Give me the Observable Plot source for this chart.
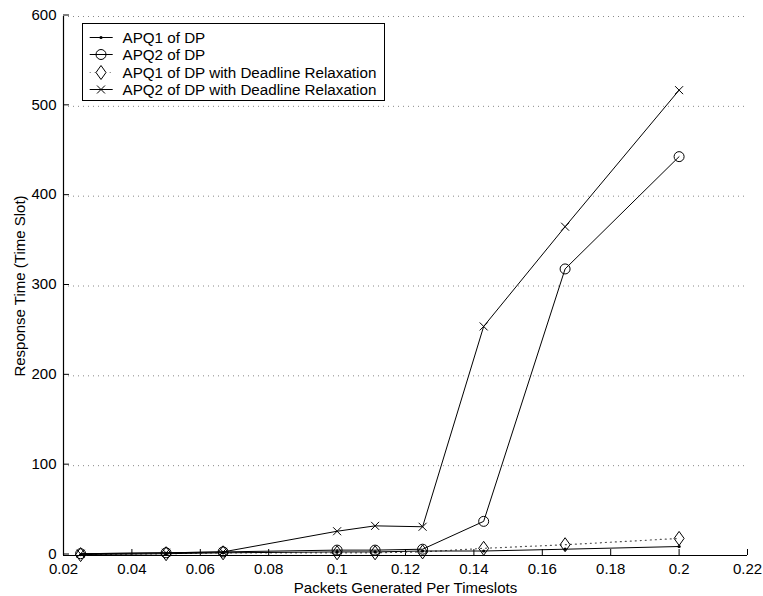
<!DOCTYPE html>
<html><head><meta charset="utf-8">
<script src="https://cdn.jsdelivr.net/npm/d3@7"></script>
<script src="https://cdn.jsdelivr.net/npm/@observablehq/plot@0.6"></script>
<style>
body{margin:0;background:#fff;font-family:"Liberation Sans",Arial,sans-serif;}
#wrap{position:relative;width:763px;height:596px;}
#legend{position:absolute;left:82px;top:23px;width:303px;height:78px;border:1.3px solid #000;background:#fff;box-sizing:border-box;font-size:15.2px;}
#legend .row{position:absolute;left:0;height:19px;display:flex;align-items:center;white-space:nowrap;}
#legend svg{width:38px;height:19px;flex:none;}
#legend span{margin-left:1.5px;}
</style></head>
<body><div id="wrap"><div id="legend"></div></div>
<script>
const xs = [0.025, 0.05, 1/15, 0.1, 1/9, 0.125, 1/7, 1/6, 0.2];
const apq1 = [1, 2, 3, 4, 4, 5, 5, 7, 10];
const apq2 = [2, 3, 4, 6, 6, 7, 38, 319, 444];
const apq1dr = [1, 2, 3, 3, 3, 4, 8, 12, 19];
const apq2dr = [2, 3, 4, 27, 33, 32, 255, 366, 518];
const seriesNames = ["APQ1 of DP", "APQ2 of DP", "APQ1 of DP with Deadline Relaxation", "APQ2 of DP with Deadline Relaxation"];
const xTicks = [0.02, 0.04, 0.06, 0.08, 0.1, 0.12, 0.14, 0.16, 0.18, 0.2, 0.22];
const yTicks = [0, 100, 200, 300, 400, 500, 600];

const diamond = {draw(ctx, size){ const w = 5, h = 7; ctx.moveTo(0,-h); ctx.lineTo(w,0); ctx.lineTo(0,h); ctx.lineTo(-w,0); ctx.closePath(); }};
const times = {draw(ctx, size){ const r = 4; ctx.moveTo(-r,-r); ctx.lineTo(r,r); ctx.moveTo(r,-r); ctx.lineTo(-r,r); }};

const rows = (vals) => xs.map((x, i) => ({x, y: vals[i]}));
const d1 = rows(apq1), d2 = rows(apq2), d3r = rows(apq1dr), d4 = rows(apq2dr);

const font = '"Liberation Sans", Arial, sans-serif';
const chart = Plot.plot({
  width: 763, height: 596,
  marginLeft: 63, marginRight: 16, marginTop: 16, marginBottom: 41,
  style: {fontFamily: font, fontSize: "15px", background: "white", color: "black"},
  x: {domain: [0.02, 0.22]},
  y: {domain: [0, 600]},
  marks: [
    Plot.ruleY(yTicks.slice(1), {stroke: "#888", strokeDasharray: "1,4", strokeWidth: 1}),
    Plot.axisX(xTicks, {tickSize: -6, tickPadding: 14, fontSize: 15, tickFormat: d => String(+d.toFixed(2)), label: null}),
    Plot.axisX({label: "Packets Generated Per Timeslots", ticks: [], labelAnchor: "center", labelArrow: "none", labelOffset: 37, fontSize: 15}),
    Plot.axisY(yTicks, {tickSize: -6, tickPadding: 13, fontSize: 15, dy: -1.5, label: null}),
    Plot.axisY({label: "Response Time (Time Slot)", ticks: [], labelAnchor: "center", labelArrow: "none", labelOffset: 49, fontSize: 15}),
    Plot.ruleX([0.02], {strokeWidth: 1.2}),
    Plot.ruleY([0], {strokeWidth: 1.2}),
    Plot.line(d3r, {x: "x", y: "y", stroke: "#555", strokeDasharray: "1,4", strokeWidth: 1.2}),
    Plot.line(d1, {x: "x", y: "y", stroke: "#000", strokeWidth: 1}),
    Plot.line(d2, {x: "x", y: "y", stroke: "#000", strokeWidth: 1}),
    Plot.line(d4, {x: "x", y: "y", stroke: "#000", strokeWidth: 1}),
    Plot.dot(d3r, {x: "x", y: "y", symbol: diamond, r: 4, stroke: "#000", fill: "none", strokeWidth: 1}),
    Plot.dot(d2, {x: "x", y: "y", symbol: "circle", r: 5, stroke: "#000", fill: "none", strokeWidth: 1}),
    Plot.dot(d4, {x: "x", y: "y", symbol: times, r: 4, stroke: "#000", strokeWidth: 1}),
    Plot.dot(d1, {x: "x", y: "y", r: 1.6, fill: "#000", stroke: "none"})
  ]
});
document.getElementById("wrap").prepend(chart);

const legendSyms = [
  '<line x1="6.7" x2="29.7" y1="9.5" y2="9.5" stroke="#000"/><circle cx="18" cy="9.5" r="1.6" fill="#000"/>',
  '<line x1="6.7" x2="29.7" y1="9.5" y2="9.5" stroke="#000"/><circle cx="18" cy="9.5" r="5" fill="none" stroke="#000"/>',
  '<line x1="6.7" x2="29.7" y1="9.5" y2="9.5" stroke="#666" stroke-dasharray="1,4"/><path d="M18,2.5L23,9.5L18,16.5L13,9.5Z" fill="white" stroke="#000"/>',
  '<line x1="6.7" x2="29.7" y1="9.5" y2="9.5" stroke="#000"/><path d="M14,5.5L22,13.5M22,5.5L14,13.5" stroke="#000"/>'
];
const lg = document.getElementById("legend");
seriesNames.forEach((n, i) => {
  const r = document.createElement("div");
  r.className = "row";
  r.style.top = (3.5 + i * 17.5) + "px";
  r.innerHTML = `<svg viewBox="0 0 38 19">${legendSyms[i]}</svg><span>${n}</span>`;
  lg.appendChild(r);
});
</script></body></html>
